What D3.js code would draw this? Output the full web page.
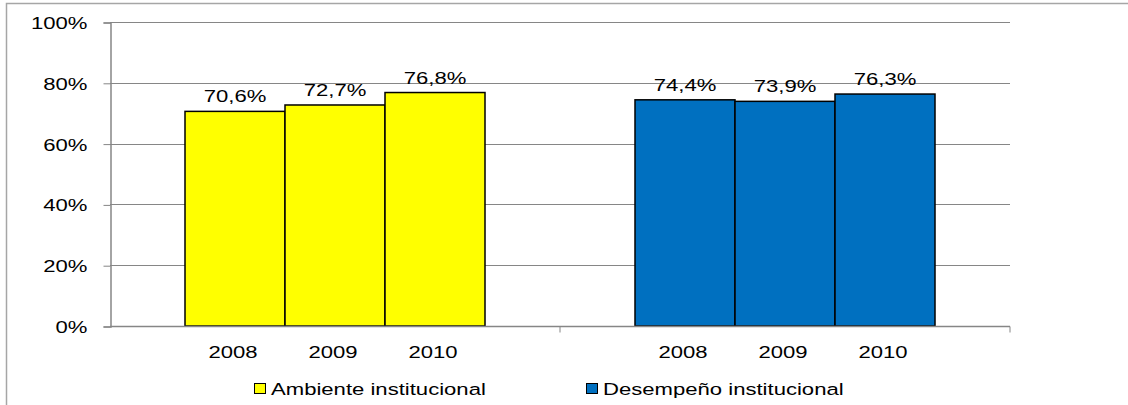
<!DOCTYPE html>
<html>
<head>
<meta charset="utf-8">
<script src="https://cdn.jsdelivr.net/npm/d3@7"></script>
<style>
body { margin:0; background:#fff; }
text { font-family: "Liberation Sans", Arial, sans-serif; fill:#000; }
</style>
</head>
<body>
<script>
var categories = ["Ambiente institucional", "Desempeño institucional"];
var years = ["2008", "2009", "2010"];
var ambiente = [0.706, 0.727, 0.768];
var desempeno = [0.744, 0.739, 0.763];
var yTicks = [0, 0.2, 0.4, 0.6, 0.8, 1];
var colors = ["#ffff00", "#0070c0"];

var series = [ambiente, desempeno];

var width = 1128,
	height = 405,
	mLeft = 110, mRight = 1010, mTop = 22, mBottom = 326,
	fs = 17, sx = 1.3;

var svg = d3.select("body").append("svg")
	.attr("width", width)
	.attr("height", height);

// wide text, like the stretched original
function at(x, y) {
	return "translate(" + x + "," + y + ") scale(" + sx + ",1)";
}

// outer frame
svg.append("path")
	.attr("d", "M6.5," + height + "V3.5H" + width)
	.attr("fill", "none")
	.attr("stroke", "#a6a6a6")
	.attr("stroke-width", 1.5);

var loc = d3.formatLocale({decimal: ",", thousands: ".", grouping: [3], currency: ["", ""]});
var pct = loc.format(".1%");

var x0 = d3.scaleBand().domain(categories).range([mLeft, mRight]).padding(0);
var x1 = d3.scaleBand().domain(years).range([0, x0.bandwidth()]).paddingInner(0).paddingOuter(0.75);
var y = d3.scaleLinear().domain([0, 1]).range([mBottom, mTop]);

// gridlines
svg.append("g").selectAll("line")
	.data(yTicks.filter(function(d){ return d > 0; }))
	.enter().append("line")
	.attr("x1", mLeft).attr("x2", mRight)
	.attr("y1", function(d){ return Math.round(y(d)) + 0.5; })
	.attr("y2", function(d){ return Math.round(y(d)) + 0.5; })
	.attr("stroke", "#868686");

// y axis
var yAxis = svg.append("g")
	.attr("transform", "translate(" + (mLeft + 0.5) + ",0.5)")
	.call(d3.axisLeft(y).tickValues(yTicks).tickFormat(d3.format(".0%")).tickSize(7));
yAxis.select(".domain").attr("stroke", "#868686").attr("stroke-width", 1.5);
yAxis.selectAll(".tick line").attr("stroke", "#868686");
yAxis.selectAll(".tick text")
	.attr("x", null).attr("dy", "0.35em")
	.attr("transform", at(-23, 0))
	.attr("font-size", fs)
	.attr("font-family", "Liberation Sans, Arial, sans-serif")
	.attr("fill", "#000");

// bars
var groups = svg.selectAll(".grp")
	.data(categories)
	.enter().append("g")
	.attr("class", "grp")
	.attr("transform", function(d){ return "translate(" + x0(d) + ",0)"; });

groups.selectAll("rect")
	.data(function(d, i){ return series[i].map(function(v, j){ return {v: v, year: years[j], c: colors[i]}; }); })
	.enter().append("rect")
	.attr("x", function(d){ return x1(d.year); })
	.attr("y", function(d){ return y(d.v); })
	.attr("width", x1.bandwidth())
	.attr("height", function(d){ return y(0) - y(d.v); })
	.attr("fill", function(d){ return d.c; })
	.attr("stroke", "#000")
	.attr("stroke-width", 1.5);

groups.selectAll(".lbl")
	.data(function(d, i){ return series[i].map(function(v, j){ return {v: v, year: years[j]}; }); })
	.enter().append("text")
	.attr("class", "lbl")
	.attr("transform", function(d){ return at(x1(d.year) + x1.bandwidth() / 2, y(d.v) - 9); })
	.attr("text-anchor", "middle")
	.attr("font-size", fs)
	.text(function(d){ return pct(d.v); });

groups.selectAll(".yr")
	.data(years)
	.enter().append("text")
	.attr("class", "yr")
	.attr("transform", function(d){ return at(x1(d) + x1.bandwidth() / 2 - 2, 358); })
	.attr("text-anchor", "middle")
	.attr("font-size", fs)
	.text(function(d){ return d; });

// x axis
var xAxis = svg.append("g")
	.attr("transform", "translate(0," + (mBottom + 0.5) + ")");
xAxis.append("line")
	.attr("x1", mLeft).attr("x2", mRight)
	.attr("stroke", "#868686").attr("stroke-width", 1.5);
xAxis.selectAll(".tk")
	.data(categories.map(function(d){ return x0(d) + x0.bandwidth(); }))
	.enter().append("line")
	.attr("x1", function(d){ return d; }).attr("x2", function(d){ return d; })
	.attr("y1", 0).attr("y2", 6)
	.attr("stroke", "#868686");

// legend
var legX = [254, 586];
var leg = svg.selectAll(".leg")
	.data(categories)
	.enter().append("g")
	.attr("class", "leg")
	.attr("transform", function(d, i){ return "translate(" + legX[i] + ",383.5)"; });
leg.append("rect")
	.attr("x", 0.5)
	.attr("width", 11).attr("height", 10)
	.attr("fill", function(d, i){ return colors[i]; })
	.attr("stroke", "#000");
leg.append("text")
	.attr("transform", at(17, 11.5))
	.attr("font-size", fs)
	.text(function(d){ return d; });
</script>
</body>
</html>
